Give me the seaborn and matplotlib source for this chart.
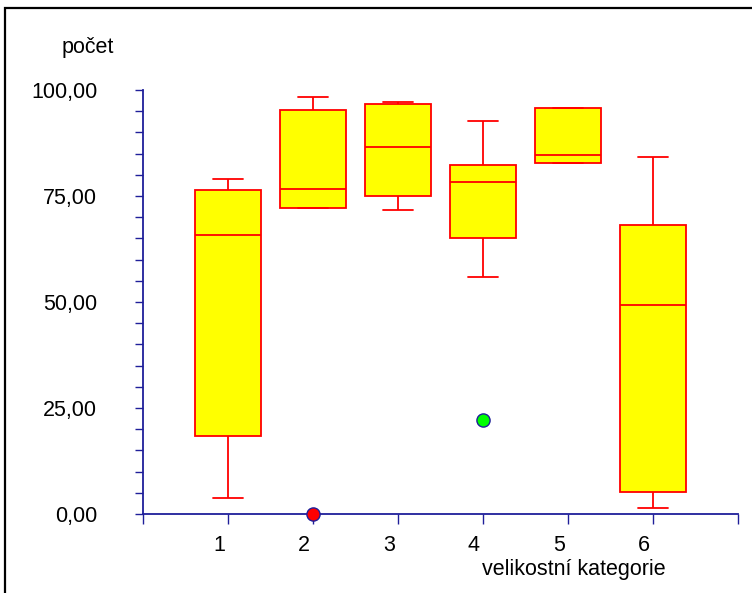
import matplotlib
matplotlib.use("Agg")
import matplotlib.pyplot as plt
import matplotlib.patches as mpatches
from matplotlib.transforms import ScaledTranslation
import numpy as np
import pandas as pd
import seaborn as sns

# box data per category: [lower whisker, Q1, median, Q3, upper whisker]
kategorie = [1, 2, 3, 4, 5, 6]
kat1 = [3.8, 18.4, 65.8, 76.4, 79.0]
kat2 = [72.2, 72.2, 76.7, 95.3, 98.3]
kat3 = [71.7, 75.0, 86.6, 96.7, 97.2]
kat4 = [55.9, 65.1, 78.3, 82.3, 92.7]
kat5 = [82.8, 82.8, 84.7, 95.8, 95.8]
kat6 = [1.4, 5.2, 49.3, 68.2, 84.2]

# separately marked points (category, value, colour)
odlehle_x = [2, 4]
odlehle_y = [0.0, 22.2]
odlehle_barvy = ["#FF0000", "#00FF00"]

y_ticks = [0, 25, 50, 75, 100]
y_labels = ["0,00", "25,00", "50,00", "75,00", "100,00"]

sns.set_style("ticks")
plt.rcParams["font.family"] = ["Liberation Sans", "DejaVu Sans"]
plt.rcParams["text.color"] = "black"

df = pd.DataFrame({
    "kategorie": np.repeat(kategorie, 5),
    "pocet": kat1 + kat2 + kat3 + kat4 + kat5 + kat6,
})

fig = plt.figure(figsize=(7.52, 5.93), dpi=100)
ax = fig.add_axes([143 / 752, 79 / 593, 595 / 752, 424 / 593])

navy = "#1F1F9A"
fs = 15.5
sns.boxplot(data=df, x="kategorie", y="pocet", native_scale=True,
            width=0.77, whis=np.inf, color="#FFFF00", linecolor="#FF0000",
            linewidth=1.3, saturation=1, capwidths=0.35, ax=ax)

for x, y, c in zip(odlehle_x, odlehle_y, odlehle_barvy):
    ax.scatter([x], [y], s=90, color=c, edgecolor=navy, linewidth=1.0,
               zorder=5, clip_on=False)

ax.set_xlim(0, 7)
ax.set_ylim(0, 100)
ax.set_xticks(range(0, 8))
ax.set_xticklabels([""] + [str(k) for k in kategorie] + [""])
ax.set_yticks(y_ticks)
ax.set_yticklabels(y_labels)
ax.set_yticks(np.arange(0, 101, 5), minor=True)
ax.set_xlabel("")
ax.set_ylabel("")

for s in ["top", "right"]:
    ax.spines[s].set_visible(False)
for s in ["left", "bottom"]:
    ax.spines[s].set_color(navy)
    ax.spines[s].set_linewidth(1.3)

ax.tick_params(axis="y", which="both", direction="out", length=6, width=1.0,
               color=navy, labelsize=fs, labelcolor="black", pad=27)
ax.tick_params(axis="x", direction="out", length=7, width=1.0, color=navy,
               labelsize=fs, labelcolor="black", pad=8)
for lab in ax.get_xticklabels():
    lab.set_transform(lab.get_transform() + ScaledTranslation(-9 / 100, 0, fig.dpi_scale_trans))

fig.text(62 / 752, 1 - 47 / 593, "počet", fontsize=fs, ha="left", va="center")
fig.text(574 / 752, 1 - 570 / 593, "velikostní kategorie", fontsize=fs,
         ha="center", va="center")

fig.patches.append(mpatches.Rectangle((5 / 752, -0.1), 1.2, 1.1 - 8 / 593,
                                      transform=fig.transFigure, fill=False,
                                      edgecolor="black", linewidth=1.6))

fig.savefig("out.png", dpi=100)
